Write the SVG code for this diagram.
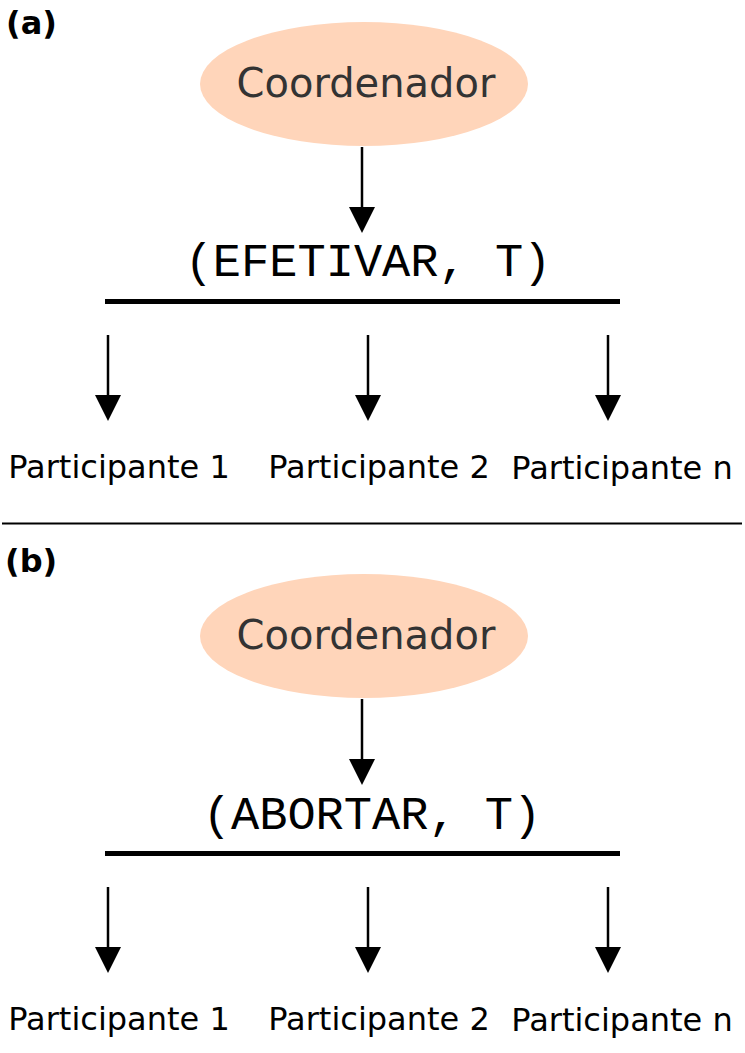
<svg xmlns="http://www.w3.org/2000/svg" width="745" height="1053" viewBox="0 0 745 1053">
<style>
.coord{fill:#FFD5BA;stroke:none}
.ct{font-family:"DejaVu Sans",sans-serif;font-size:40px;fill:#333333;text-anchor:middle}
.msg{font-family:"Liberation Mono","DejaVu Sans Mono",monospace;font-size:47px;fill:#000;text-anchor:middle}
.pt{font-family:"DejaVu Sans",sans-serif;font-size:32px;fill:#000;text-anchor:middle}
.lbl{font-family:"DejaVu Sans",sans-serif;font-size:32px;font-weight:bold;fill:#000}
.bar{stroke:#000;stroke-width:5}
.arr{stroke:#000;stroke-width:2.5;fill:none}
.head{fill:#000}
</style>
<rect width="745" height="1053" fill="#fff"/>
<text class="lbl" x="6" y="34">(a)</text>
<text class="lbl" x="5" y="572">(b)</text>
<line x1="2" y1="523.5" x2="742" y2="523.5" stroke="#000" stroke-width="2.2"/>
<g id="coordA"><ellipse class="coord" cx="364" cy="84" rx="164" ry="62"/><text class="ct" x="366" y="97">Coordenador</text></g>
<g id="msgA"><text class="msg" x="368" y="276">(EFETIVAR, T)</text><line class="bar" x1="105" y1="301.5" x2="620" y2="301.5"/></g>
<g id="p1A"><text class="pt" x="119" y="478">Participante 1</text></g>
<g id="p2A"><text class="pt" x="379" y="478">Participante 2</text></g>
<g id="pnA"><text class="pt" x="622" y="479">Participante n</text></g>
<g id="coordB"><ellipse class="coord" cx="364" cy="636" rx="164" ry="62"/><text class="ct" x="366" y="649">Coordenador</text></g>
<g id="msgB"><text class="msg" x="372" y="829">(ABORTAR, T)</text><line class="bar" x1="105" y1="853.5" x2="620" y2="853.5"/></g>
<g id="p1B"><text class="pt" x="119" y="1030">Participante 1</text></g>
<g id="p2B"><text class="pt" x="379" y="1030">Participante 2</text></g>
<g id="pnB"><text class="pt" x="622" y="1031">Participante n</text></g>
<g id="connectors">
<line class="arr" x1="362" y1="147" x2="362" y2="208"/><polygon class="head" points="349,207 375,207 362,233"/>
<line class="arr" x1="108" y1="335" x2="108" y2="396"/><polygon class="head" points="95,395 121,395 108,421"/>
<line class="arr" x1="368" y1="335" x2="368" y2="396"/><polygon class="head" points="355,395 381,395 368,421"/>
<line class="arr" x1="608" y1="335" x2="608" y2="396"/><polygon class="head" points="595,395 621,395 608,421"/>
<line class="arr" x1="362" y1="699" x2="362" y2="760"/><polygon class="head" points="349,759 375,759 362,785"/>
<line class="arr" x1="108" y1="887" x2="108" y2="948"/><polygon class="head" points="95,947 121,947 108,973"/>
<line class="arr" x1="368" y1="887" x2="368" y2="948"/><polygon class="head" points="355,947 381,947 368,973"/>
<line class="arr" x1="608" y1="887" x2="608" y2="948"/><polygon class="head" points="595,947 621,947 608,973"/>
</g>
</svg>
